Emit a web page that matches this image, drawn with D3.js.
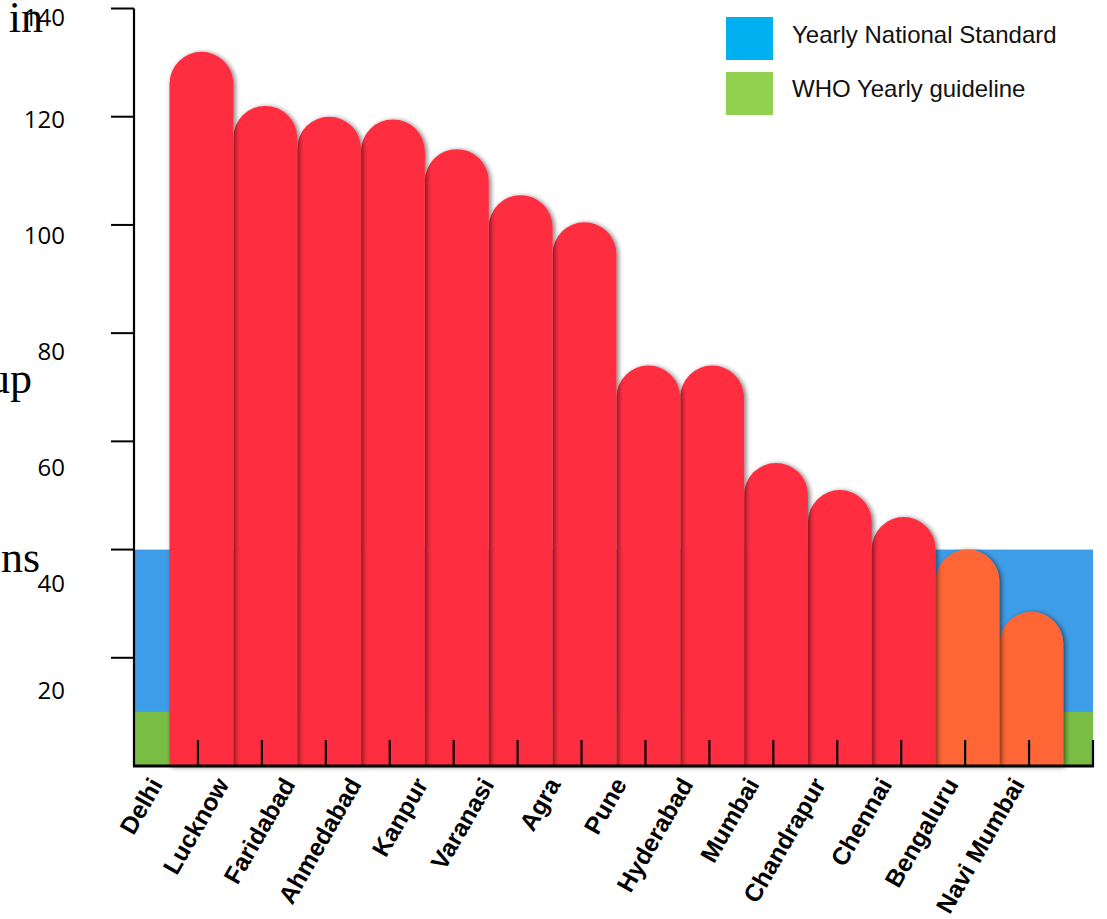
<!DOCTYPE html>
<html>
<head>
<meta charset="utf-8">
<script src="https://cdn.jsdelivr.net/npm/d3@7"></script>
<style>
  html, body { margin: 0; padding: 0; background: #fff; }
  svg { display: block; }
</style>
</head>
<body>
<div id="chart"></div>
<script>
// Annual PM10 levels by city
const cities = ["Delhi", "Lucknow", "Faridabad", "Ahmedabad", "Kanpur", "Varanasi", "Agra",
  "Pune", "Hyderabad", "Mumbai", "Chandrapur", "Chennai", "Bengaluru", "Navi Mumbai"];
const pm10 = [132, 122, 120, 119.5, 114, 105.5, 100.5, 74, 74, 56, 51, 46, 40, 28.5];
const yTicks = [20, 40, 60, 80, 100, 120, 140];
const nationalStandard = 40;
const whoGuideline = 10;
const legendItems = ["Yearly National Standard", "WHO Yearly guideline"];
const titleFragments = ["in", "up", "ns"];

const W = 1107, H = 919;
const left = 134, right = 1093, base = 766;

const svg = d3.select("#chart").append("svg").attr("width", W).attr("height", H);

const defs = svg.append("defs");
const f = defs.append("filter").attr("id", "barShadow")
  .attr("x", "-20%").attr("y", "-10%").attr("width", "140%").attr("height", "120%");
f.append("feDropShadow").attr("dx", 2).attr("dy", 1).attr("stdDeviation", 2.6)
  .attr("flood-color", "#000").attr("flood-opacity", 0.55);

const y = d3.scaleLinear().domain([0, 140]).range([base, 8.5]);
// category slots along the axis (one spare slot at the end)
const slot = d3.scaleLinear().domain([0, cities.length + 1]).range([left, right]);
const x = d3.scaleBand().domain(cities).range([169.5, 1063.3]).padding(0);
// anchor points of the slanted city names
const labelX = d3.scaleLinear().domain([0, cities.length - 1]).range([156, 1018]);

// threshold bands behind the bars
svg.append("rect").attr("x", left).attr("width", right - left)
  .attr("y", y(nationalStandard)).attr("height", base - y(nationalStandard))
  .attr("fill", "#3e9de8");
svg.append("rect").attr("x", left).attr("width", right - left)
  .attr("y", y(whoGuideline)).attr("height", base - y(whoGuideline))
  .attr("fill", "#79bd44");

// rounded-top bars, drawn right to left so each shadow falls on its right neighbour
const w = x.bandwidth(), r = w / 2;
const barPath = d => {
  const x0 = x(d.city), yt = y(d.value);
  return `M${x0},${base} L${x0},${yt + r} A${r},${r} 0 0 1 ${x0 + w},${yt + r} L${x0 + w},${base} Z`;
};
const data = cities.map((c, i) => ({ city: c, value: pm10[i] })).reverse();
svg.append("g").selectAll("path").data(data).join("path")
  .attr("d", barPath)
  .attr("fill", d => d.value > nationalStandard ? "#fe2d40" : "#ff6636")
  .attr("filter", "url(#barShadow)");

// y axis
const yAxis = svg.append("g");
yAxis.append("line").attr("x1", left).attr("x2", left).attr("y1", y(140)).attr("y2", base)
  .attr("stroke", "#000").attr("stroke-width", 2.2);
yAxis.selectAll("line.tick").data(yTicks).join("line").attr("class", "tick")
  .attr("x1", left - 23).attr("x2", left).attr("y1", d => y(d)).attr("y2", d => y(d))
  .attr("stroke", "#000").attr("stroke-width", 2);
// tick labels sit on their own spacing, kept inside the frame
const labelY = d3.scaleLinear().domain([40, 120]).range([584, 120]);
yAxis.selectAll("text").data(yTicks).join("text")
  .attr("x", 65).attr("y", d => Math.max(18, Math.min(691, labelY(d))))
  .attr("dy", "0.35em").attr("text-anchor", "end")
  .attr("font-family", "'Open Sans', sans-serif").attr("font-size", 24).attr("fill", "#000")
  .text(d => d);

// x axis with ticks pointing up into the plot
const xAxis = svg.append("g");
xAxis.append("line").attr("x1", left - 1).attr("x2", right + 1).attr("y1", base).attr("y2", base)
  .attr("stroke", "#000").attr("stroke-width", 3);
xAxis.selectAll("line.tick").data(d3.range(1, cities.length + 2)).join("line").attr("class", "tick")
  .attr("x1", d => slot(d)).attr("x2", d => slot(d)).attr("y1", base - 26).attr("y2", base)
  .attr("stroke", "#000").attr("stroke-width", 2.2);
xAxis.selectAll("text").data(cities).join("text")
  .attr("transform", (d, i) => `translate(${labelX(i)},${base + 14}) rotate(-60)`)
  .attr("text-anchor", "end").attr("dy", "0.35em")
  .attr("font-family", "'Liberation Sans', Arial, sans-serif").attr("font-size", 24.5)
  .attr("font-weight", "bold").attr("fill", "#000")
  .text(d => d);

// legend
const legend = svg.append("g");
const legendColors = ["#00b0f0", "#92d050"];
legendItems.forEach((t, i) => {
  legend.append("rect").attr("x", 726).attr("y", 17 + i * 55).attr("width", 47).attr("height", 43)
    .attr("fill", legendColors[i]);
  legend.append("text").attr("x", 792).attr("y", 43 + i * 54)
    .attr("font-family", "'Liberation Sans', Arial, sans-serif").attr("font-size", 24)
    .attr("fill", "#111").text(t);
});

// fragments of the vertical title, cut at the left edge
const titleY = [32, 393, 572], titleX = [43, 32, 40];
svg.append("g").selectAll("text").data(titleFragments).join("text")
  .attr("x", (d, i) => titleX[i]).attr("y", (d, i) => titleY[i])
  .attr("text-anchor", "end")
  .attr("font-family", "'Liberation Serif', 'Times New Roman', serif").attr("font-size", 44)
  .attr("fill", "#000").text(d => d);
</script>
</body>
</html>
